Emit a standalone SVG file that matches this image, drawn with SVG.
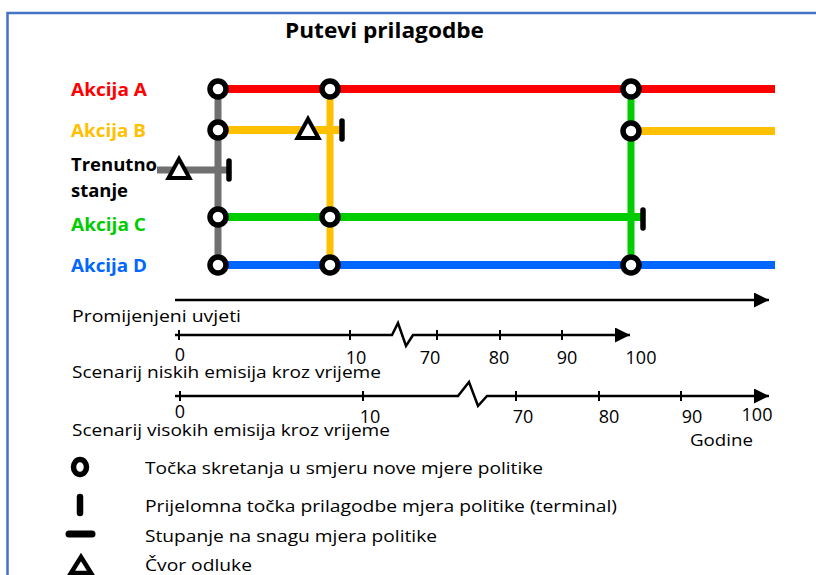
<svg xmlns="http://www.w3.org/2000/svg" width="816" height="575" viewBox="0 0 816 575">
<style>
.t{font-family:"Open Sans","Liberation Sans",sans-serif;fill:#000}
.b{font-weight:bold}
.n{font-family:"Open Sans","Liberation Sans",sans-serif;font-size:18px;text-anchor:middle;fill:#000}
.ln{fill:none;stroke-linecap:butt}
.ax{fill:none;stroke:#000;stroke-width:2.5}
.tk{stroke:#000;stroke-width:2}
</style>
<defs>
<g id="circ"><circle r="8" fill="#fff" stroke="#000" stroke-width="5.5"/></g>
<g id="tri"><path d="M0,-10 L10.5,9 L-10.5,9 Z" fill="#fff" stroke="#000" stroke-width="4" stroke-linejoin="miter"/></g>
<g id="term"><line x1="0" y1="-9" x2="0" y2="9" stroke="#000" stroke-width="5.5" stroke-linecap="round"/></g>
<marker id="arr" viewBox="0 0 10 10" refX="10" refY="5" markerUnits="userSpaceOnUse" markerWidth="24" markerHeight="15" orient="auto"><path d="M0,0 L10,5 L0,10 Z" fill="#000"/></marker>
</defs>
<rect x="7.5" y="13" width="820" height="580" fill="#fff" stroke="#4472C4" stroke-width="2.5"/>
<text class="t b" x="285" y="38" font-size="22" textLength="199" lengthAdjust="spacingAndGlyphs">Putevi prilagodbe</text>
<g id="labels">
<text class="t b" x="71" y="96" font-size="18" style="fill:#FF0000" textLength="76" lengthAdjust="spacingAndGlyphs">Akcija A</text>
<text class="t b" x="71" y="137" font-size="18" style="fill:#FFC000" textLength="75" lengthAdjust="spacingAndGlyphs">Akcija B</text>
<text class="t b" x="71" y="171" font-size="18" textLength="86" lengthAdjust="spacingAndGlyphs">Trenutno</text>
<text class="t b" x="71" y="197" font-size="18" textLength="57" lengthAdjust="spacingAndGlyphs">stanje</text>
<text class="t b" x="71" y="231" font-size="18" style="fill:#00CC00" textLength="75" lengthAdjust="spacingAndGlyphs">Akcija C</text>
<text class="t b" x="71" y="272" font-size="18" style="fill:#0066FF" textLength="76" lengthAdjust="spacingAndGlyphs">Akcija D</text>
</g>
<g id="connectors">
<line class="ln" x1="218" y1="89" x2="775" y2="89" stroke="#FF0000" stroke-width="8"/>
<line class="ln" x1="218" y1="130" x2="342" y2="130" stroke="#FFC000" stroke-width="8"/>
<line class="ln" x1="631" y1="131" x2="775" y2="131" stroke="#FFC000" stroke-width="8"/>
<line class="ln" x1="157" y1="170" x2="228" y2="170" stroke="#707070" stroke-width="7"/>
<line class="ln" x1="218" y1="217" x2="642" y2="217" stroke="#00CC00" stroke-width="8"/>
<line class="ln" x1="218" y1="265" x2="775" y2="265" stroke="#0066FF" stroke-width="8" stroke-linecap="round"/>
<line class="ln" x1="218" y1="89" x2="218" y2="265" stroke="#707070" stroke-width="7"/>
<line class="ln" x1="330" y1="89" x2="330" y2="265" stroke="#FFC000" stroke-width="7"/>
<line class="ln" x1="631" y1="89" x2="631" y2="265" stroke="#00CC00" stroke-width="7"/>
</g>
<g id="nodes">
<g id="n-a1"><use href="#circ" x="218" y="89"/></g>
<g id="n-b1"><use href="#circ" x="218" y="130"/></g>
<g id="n-c1"><use href="#circ" x="218" y="217"/></g>
<g id="n-d1"><use href="#circ" x="218" y="265"/></g>
<g id="n-a2"><use href="#circ" x="330" y="89"/></g>
<g id="n-c2"><use href="#circ" x="330" y="217"/></g>
<g id="n-d2"><use href="#circ" x="330" y="265"/></g>
<g id="n-a3"><use href="#circ" x="631" y="89"/></g>
<g id="n-b3"><use href="#circ" x="631" y="131"/></g>
<g id="n-d3"><use href="#circ" x="631" y="265"/></g>
<g id="n-tri-b"><use href="#tri" x="308" y="129"/></g>
<g id="n-tri-t"><use href="#tri" x="179" y="169"/></g>
<g id="n-term-b"><use href="#term" x="342" y="130"/></g>
<g id="n-term-t"><use href="#term" x="229" y="170"/></g>
<g id="n-term-c"><use href="#term" x="643" y="219"/></g>
</g>
<g id="timelines">
<line class="ax" x1="175" y1="300" x2="769" y2="300" stroke-width="3" marker-end="url(#arr)"/>
<text class="t" x="72" y="322" font-size="17" textLength="169" lengthAdjust="spacingAndGlyphs">Promijenjeni uvjeti</text>
<path class="ax" d="M175,335 L392,335 L398,323 L406,346 L413,335 L630,335" marker-end="url(#arr)"/>
<path class="tk" d="M179,330 V340 M350,330 V340 M437,330 V340 M500,330 V340 M562,330 V340"/>
<text class="n" x="180" y="361">0</text>
<text class="n" x="356" y="364">10</text>
<text class="n" x="430" y="364">70</text>
<text class="n" x="499" y="364">80</text>
<text class="n" x="567" y="364">90</text>
<text class="n" x="641" y="364">100</text>
<text class="t" x="72" y="378" font-size="17" textLength="309" lengthAdjust="spacingAndGlyphs">Scenarij niskih emisija kroz vrijeme</text>
<path class="ax" d="M175,396 L458,396 L469,382 L478,406 L487,396 L769,396" marker-end="url(#arr)"/>
<path class="tk" d="M180,391 V401 M363,391 V401 M516,391 V401 M599,391 V401 M681,391 V401"/>
<text class="n" x="180" y="418">0</text>
<text class="n" x="370" y="423">10</text>
<text class="n" x="523" y="423">70</text>
<text class="n" x="609" y="423">80</text>
<text class="n" x="692" y="423">90</text>
<text class="n" x="757" y="421">100</text>
<text class="t" x="690" y="446" font-size="17" textLength="63" lengthAdjust="spacingAndGlyphs">Godine</text>
<text class="t" x="72" y="436" font-size="17" textLength="318" lengthAdjust="spacingAndGlyphs">Scenarij visokih emisija kroz vrijeme</text>
</g>
<g id="legend">
<ellipse cx="80" cy="467" rx="6.5" ry="7.5" fill="#fff" stroke="#000" stroke-width="5.5"/>
<line x1="80" y1="497" x2="80" y2="513" stroke="#000" stroke-width="6.5" stroke-linecap="round"/>
<line x1="69" y1="534" x2="92" y2="534" stroke="#000" stroke-width="7" stroke-linecap="round"/>
<path d="M81,557 L91,573 L71,573 Z" fill="#fff" stroke="#000" stroke-width="4.5"/>
<text class="t" x="145" y="474" font-size="17" textLength="398" lengthAdjust="spacingAndGlyphs">Točka skretanja u smjeru nove mjere politike</text>
<text class="t" x="145" y="512" font-size="17" textLength="472" lengthAdjust="spacingAndGlyphs">Prijelomna točka prilagodbe mjera politike (terminal)</text>
<text class="t" x="145" y="542" font-size="17" textLength="292" lengthAdjust="spacingAndGlyphs">Stupanje na snagu mjera politike</text>
<text class="t" x="145" y="571" font-size="17" textLength="107" lengthAdjust="spacingAndGlyphs">Čvor odluke</text>
</g>
</svg>
